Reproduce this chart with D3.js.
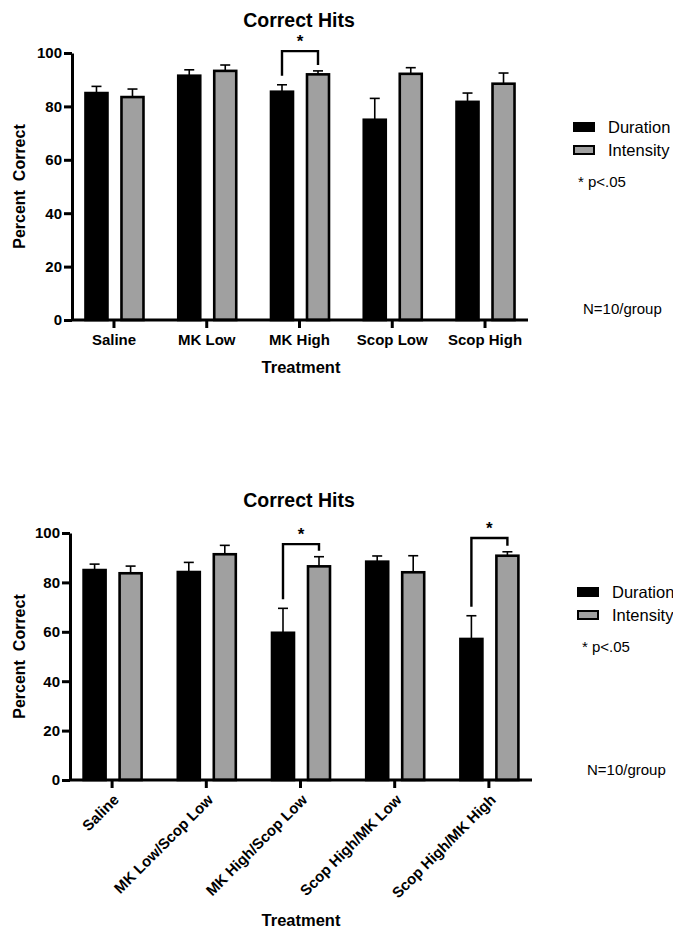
<!DOCTYPE html>
<html lang="en">
<head>
<meta charset="utf-8">
<title>Correct Hits</title>
<script src="https://cdn.jsdelivr.net/npm/d3@7"></script>
<style>
  body { margin: 0; background: #fff; }
  svg { display: block; font-family: "Liberation Sans", Arial, sans-serif; }
</style>
</head>
<body>
<svg id="chart" width="673" height="928"></svg>
<script>
// ---- data ----
const seriesNames = ["Duration", "Intensity"];

const catsTop = ["Saline", "MK Low", "MK High", "Scop Low", "Scop High"];
const durTop = [85, 91.5, 85.5, 75, 81.7];
const durTopErr = [2.5, 2.2, 2.6, 8, 3.3];
const intTop = [83.5, 93.3, 92, 92.2, 88.5];
const intTopErr = [3, 2.2, 1.3, 2.3, 4];
const sigTop = [{ cat: 2, level: 100.7 }];

const catsBottom = ["Saline", "MK Low/Scop Low", "MK High/Scop Low", "Scop High/MK Low", "Scop High/MK High"];
const durBottom = [85, 84.2, 59.6, 88.4, 57.1];
const durBottomErr = [2.4, 3.9, 9.9, 2.3, 9.4];
const intBottom = [83.7, 91.4, 86.5, 84.1, 90.8];
const intBottomErr = [2.9, 3.6, 3.9, 6.7, 1.6];
const sigBottom = [{ cat: 2, level: 95.5 }, { cat: 4, level: 98 }];

const yTicks = [0, 20, 40, 60, 80, 100];

const svg = d3.select("#chart");
const grey = "#a0a0a0";

function drawPanel(opt) {
  const g = svg.append("g");
  const x = d3.scaleBand().domain(opt.cats).range(opt.xRange);
  const y = d3.scaleLinear().domain([0, 100]).range(opt.yRange);
  const barW = 22;
  const offs = [-17.5, 18.5];

  const rows = opt.cats.map((c, i) => ({
    cat: c,
    vals: [opt.dur[i], opt.int[i]],
    errs: [opt.durErr[i], opt.intErr[i]]
  }));

  // error whiskers (upper only) drawn under bars
  rows.forEach(r => {
    [0, 1].forEach(s => {
      const cx = x(r.cat) + x.bandwidth() / 2 + offs[s];
      const top = y(r.vals[s] + r.errs[s]);
      g.append("line")
        .attr("x1", cx).attr("x2", cx)
        .attr("y1", y(r.vals[s])).attr("y2", top)
        .attr("stroke", "#000").attr("stroke-width", 1.6);
      g.append("line")
        .attr("x1", cx - 5).attr("x2", cx + 5)
        .attr("y1", top).attr("y2", top)
        .attr("stroke", "#000").attr("stroke-width", 1.6);
    });
  });

  rows.forEach(r => {
    [0, 1].forEach(s => {
      const cx = x(r.cat) + x.bandwidth() / 2 + offs[s];
      g.append("rect")
        .attr("x", cx - barW / 2)
        .attr("y", y(r.vals[s]))
        .attr("width", barW)
        .attr("height", y(0) - y(r.vals[s]))
        .attr("fill", s === 0 ? "#000" : grey)
        .attr("stroke", "#000")
        .attr("stroke-width", 2.6);
    });
  });

  // significance brackets
  opt.sig.forEach(sg => {
    const c = opt.cats[sg.cat];
    const x1 = x(c) + x.bandwidth() / 2 + offs[0];
    const x2 = x(c) + x.bandwidth() / 2 + offs[1];
    const yl = y(opt.dur[sg.cat] + opt.durErr[sg.cat]) - 9;
    const yr = y(opt.int[sg.cat] + opt.intErr[sg.cat]) - 6;
    const yt = y(sg.level);
    g.append("path")
      .attr("d", `M${x1},${yl}V${yt}H${x2}V${yr}`)
      .attr("fill", "none").attr("stroke", "#000").attr("stroke-width", 2.4);
    g.append("text")
      .attr("x", (x1 + x2) / 2).attr("y", yt - 4)
      .attr("text-anchor", "middle")
      .attr("font-size", 17).attr("font-weight", "bold")
      .text("*");
  });

  // axes
  const yAxis = g.append("g")
    .attr("transform", `translate(${opt.axisX},0)`)
    .call(d3.axisLeft(y).tickValues(yTicks).tickSize(8).tickSizeOuter(0).tickPadding(2));
  yAxis.select(".domain").attr("stroke-width", 3);
  yAxis.selectAll(".tick line").attr("stroke-width", 3);
  yAxis.selectAll("text").attr("font-size", 15).attr("font-weight", "bold").attr("fill", "#000");

  const xAxis = g.append("g")
    .attr("transform", `translate(0,${y(0)})`)
    .call(d3.axisBottom(x).tickSize(8).tickSizeOuter(0).tickPadding(6));
  xAxis.select(".domain").remove();
  xAxis.selectAll(".tick line").attr("stroke-width", 3);
  xAxis.selectAll("text").attr("font-size", 15).attr("font-weight", "bold").attr("fill", "#000");
  g.append("line")
    .attr("x1", opt.axisX).attr("x2", opt.axisEnd)
    .attr("y1", y(0)).attr("y2", y(0))
    .attr("stroke", "#000").attr("stroke-width", 3);

  if (opt.rotate) {
    xAxis.selectAll("text")
      .attr("y", 0).attr("dy", "0.35em")
      .attr("text-anchor", "end")
      .attr("transform", "translate(4,17) rotate(-45)");
  }

  // titles
  g.append("text")
    .attr("x", 299).attr("y", opt.titleY)
    .attr("text-anchor", "middle")
    .attr("font-size", 19.5).attr("font-weight", "bold")
    .text("Correct Hits");
  g.append("text")
    .attr("x", 301).attr("y", opt.xLabelY)
    .attr("text-anchor", "middle")
    .attr("font-size", 16.5).attr("font-weight", "bold")
    .text("Treatment");
  g.append("text")
    .attr("transform", `translate(25,${(opt.yRange[0] + opt.yRange[1]) / 2}) rotate(-90)`)
    .attr("text-anchor", "middle")
    .attr("font-size", 16).attr("font-weight", "bold")
    .attr("xml:space", "preserve")
    .text("Percent  Correct");

  // legend
  const lg = g.append("g").attr("transform", `translate(${opt.legX},${opt.legY})`);
  seriesNames.forEach((n, i) => {
    lg.append("rect")
      .attr("x", 1).attr("y", i * 23 - 4)
      .attr("width", 20).attr("height", 8)
      .attr("fill", i === 0 ? "#000" : grey)
      .attr("stroke", "#000").attr("stroke-width", 2);
    lg.append("text")
      .attr("x", 35).attr("y", i * 23 + 6)
      .attr("font-size", 16.5)
      .text(n);
  });
  lg.append("text")
    .attr("x", 5).attr("y", 60)
    .attr("font-size", 15)
    .text("* p<.05");
  g.append("text")
    .attr("x", opt.legX + 10).attr("y", opt.nY)
    .attr("font-size", 15)
    .text("N=10/group");
}

drawPanel({
  cats: catsTop, dur: durTop, durErr: durTopErr, int: intTop, intErr: intTopErr, sig: sigTop,
  xRange: [67.6, 531.4], yRange: [320, 53], axisX: 72, axisEnd: 528,
  titleY: 27, xLabelY: 373, legX: 573, legY: 127, nY: 314, rotate: false
});

drawPanel({
  cats: catsBottom, dur: durBottom, durErr: durBottomErr, int: intBottom, intErr: intBottomErr, sig: sigBottom,
  xRange: [65, 536], yRange: [780, 533], axisX: 70, axisEnd: 532,
  titleY: 507, xLabelY: 926, legX: 577, legY: 592, nY: 775, rotate: true
});
</script>
</body>
</html>
